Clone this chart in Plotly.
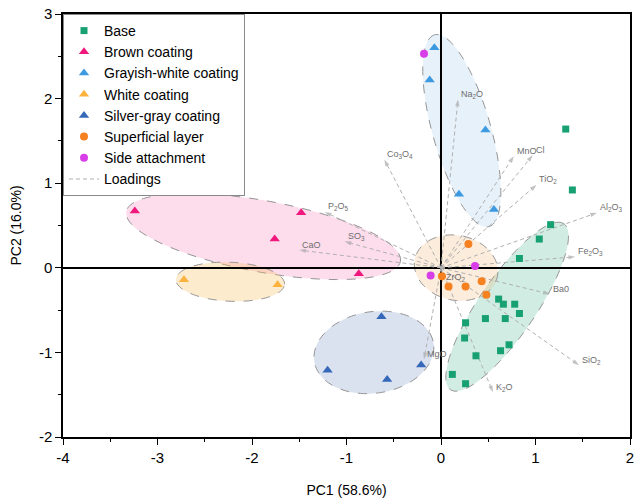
import numpy as np
import plotly.graph_objects as go

# ---------------- data ----------------
base_pc1 = [1.32, 1.39, 1.16, 1.04, 0.83, 0.61, 0.66, 0.78, 0.83, 0.47, 0.68, 0.26, 0.25, 0.72, 0.63, 0.37, 0.12, 0.26]
base_pc2 = [1.64, 0.92, 0.51, 0.34, 0.11, -0.37, -0.43, -0.43, -0.54, -0.60, -0.60, -0.65, -0.83, -0.91, -0.98, -1.04, -1.26, -1.37]

brown_pc1 = [-3.24, -1.48, -1.76, -0.87]
brown_pc2 = [0.67, 0.65, 0.34, -0.07]

grayish_pc1 = [-0.07, -0.12, 0.47, 0.19, 0.56]
grayish_pc2 = [2.60, 2.22, 1.63, 0.87, 0.69]

white_pc1 = [-2.72, -1.73]
white_pc2 = [-0.14, -0.20]

silver_pc1 = [-0.63, -1.20, -0.57, -0.21]
silver_pc2 = [-0.58, -1.21, -1.32, -1.15]

superficial_pc1 = [0.29, 0.01, 0.08, 0.26, 0.43, 0.48]
superficial_pc2 = [0.28, -0.10, -0.22, -0.22, -0.16, -0.32]

side_pc1 = [-0.18, 0.36, -0.11]
side_pc2 = [2.53, 0.02, -0.09]

loading_names = ["Na<sub>2</sub>O", "Co<sub>3</sub>O<sub>4</sub>", "MnO", "Cl", "TiO<sub>2</sub>",
                 "Al<sub>2</sub>O<sub>3</sub>", "Fe<sub>2</sub>O<sub>3</sub>", "Ba0", "SiO<sub>2</sub>",
                 "K<sub>2</sub>O", "MgO", "ZrO<sub>2</sub>", "P<sub>2</sub>O<sub>5</sub>", "SO<sub>3</sub>", "CaO"]
loading_pc1 = [0.18, -0.60, 0.77, 0.97, 1.01, 1.65, 1.42, 1.15, 1.46, 0.55, -0.18, 0.02, -1.23, -1.02, -1.50]
loading_pc2 = [1.99, 1.28, 1.32, 1.33, 0.98, 0.65, 0.13, -0.31, -1.15, -1.47, -1.08, -0.17, 0.66, 0.31, 0.21]

# confidence ellipses (center, semi-axes, rotation in degrees)
ell_group = ["Base", "Brown coating", "Grayish-white coating", "White coating", "Silver-gray coating", "Superficial layer"]
ell_cx = [0.70, -1.88, 0.22, -2.23, -0.71, 0.16]
ell_cy = [-0.46, 0.37, 1.62, -0.165, -1.00, 0.00]
ell_a = [1.15, 1.48, 1.17, 0.575, 0.64, 0.45]
ell_b = [0.31, 0.42, 0.31, 0.23, 0.48, 0.38]
ell_ang = [59, -11.7, 104, -3, 12, -20]

x_ticks = [-4, -3, -2, -1, 0, 1, 2]
x_tick_labels = ["-4", "-3", "-2", "-1", "0", "1", "2"]
y_ticks = [-2, -1, 0, 1, 2, 3]
y_tick_labels = ["-2", "-1", "0", "1", "2", "3"]

# ---------------- styles ----------------
FONT = "Liberation Sans, Arial, sans-serif"
groups = [
    ("Base", base_pc1, base_pc2, "square", 7, "#17a072", "rgba(23,160,114,0.20)"),
    ("Brown coating", brown_pc1, brown_pc2, "triangle-up", 9, "#f0187d", "rgba(245,80,160,0.20)"),
    ("Grayish-white coating", grayish_pc1, grayish_pc2, "triangle-up", 9, "#3d9ae0", "rgba(120,180,230,0.18)"),
    ("White coating", white_pc1, white_pc2, "triangle-up", 9, "#fbb33e", "rgba(248,190,90,0.30)"),
    ("Silver-gray coating", silver_pc1, silver_pc2, "triangle-up", 9, "#3568b8", "rgba(70,110,180,0.20)"),
    ("Superficial layer", superficial_pc1, superficial_pc2, "circle", 8, "#f68121", "rgba(245,180,110,0.25)"),
    ("Side attachment", side_pc1, side_pc2, "circle", 8, "#d83ee8", None),
]
fill_of = {g[0]: g[6] for g in groups}


def ellipse_path(cx, cy, a, b, ang, n=120):
    t = np.linspace(0, 2 * np.pi, n)
    th = np.deg2rad(ang)
    xs = cx + a * np.cos(t) * np.cos(th) - b * np.sin(t) * np.sin(th)
    ys = cy + a * np.cos(t) * np.sin(th) + b * np.sin(t) * np.cos(th)
    pts = " L ".join(f"{x:.4f},{y:.4f}" for x, y in zip(xs, ys))
    return "M " + pts + " Z"


fig = go.Figure()

for g, cx, cy, a, b, ang in zip(ell_group, ell_cx, ell_cy, ell_a, ell_b, ell_ang):
    fig.add_shape(type="path", path=ellipse_path(cx, cy, a, b, ang), xref="x", yref="y",
                  fillcolor=fill_of[g], line=dict(color="#949494", width=1, dash="dash"), layer="below")

# loadings
lx, ly, lsym, lsize = [], [], [], []
for px, py in zip(loading_pc1, loading_pc2):
    lx += [0, px, None]
    ly += [0, py, None]
    lsym += ["circle", "arrow", "circle"]
    lsize += [0, 7, 0]
fig.add_trace(go.Scatter(x=lx, y=ly, mode="lines+markers", showlegend=False, hoverinfo="skip",
                         line=dict(color="#b0b0b0", width=1, dash="4px,3px"),
                         marker=dict(symbol=lsym, size=lsize, color="#a8a8a8", angleref="previous",
                                     line=dict(width=0))))
for name, px, py in zip(loading_names, loading_pc1, loading_pc2):
    fig.add_annotation(x=px, y=py, text=name, showarrow=False, xanchor="left", yanchor="middle",
                       xshift=1, yshift=5, font=dict(family=FONT, size=9, color="#6e6e6e"))

for name, xs, ys, sym, size, col, _ in groups:
    fig.add_trace(go.Scatter(x=xs, y=ys, mode="markers", name=name,
                             marker=dict(symbol=sym, size=size, color=col, line=dict(width=0))))

fig.add_trace(go.Scatter(x=[None], y=[None], mode="lines", name="Loadings",
                         line=dict(color="#b0b0b0", width=1.2, dash="4px,3px")))

axis_common = dict(showgrid=False, zeroline=True, zerolinecolor="black", zerolinewidth=1.5,
                   showline=True, linecolor="black", linewidth=1.5, mirror=True, automargin=False,
                   ticks="outside", ticklen=6, tickwidth=1.2, tickcolor="black",
                   tickfont=dict(family=FONT, size=15, color="black"),
                   title_font=dict(family=FONT, size=14, color="black"))
fig.update_xaxes(range=[-4, 2], tickvals=x_ticks, ticktext=x_tick_labels,
                 title_text="PC1 (58.6%)", title_standoff=20,
                 minor=dict(ticks="outside", ticklen=3, dtick=0.5, tickcolor="black", tickwidth=1.2),
                 **axis_common)
fig.update_yaxes(range=[-2, 3], tickvals=y_ticks, ticktext=y_tick_labels,
                 title_text="PC2 (16.0%)", title_standoff=14,
                 minor=dict(ticks="outside", ticklen=3, dtick=0.5, tickcolor="black", tickwidth=1.2),
                 **axis_common)

fig.update_layout(
    width=643, height=498,
    margin=dict(l=63, r=13, t=14, b=61, autoexpand=False),
    plot_bgcolor="white", paper_bgcolor="white",
    font=dict(family=FONT, color="black"),
    legend=dict(x=0, y=1, xanchor="left", yanchor="top", bgcolor="white",
                bordercolor="#8a8a8a", borderwidth=1, font=dict(family=FONT, size=14),
                tracegroupgap=0, itemwidth=30),
)

fig.write_html("out.html", config={"displayModeBar": False},
               post_script="document.body.style.margin='0px';document.body.style.padding='0px';")
